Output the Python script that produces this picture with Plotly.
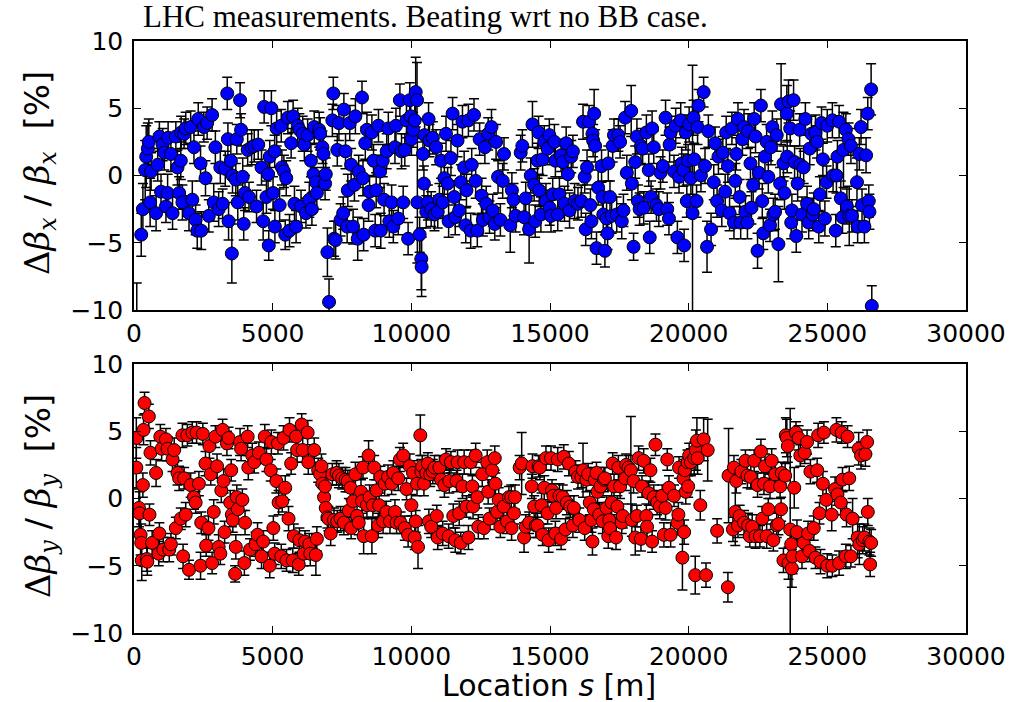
import plotly.graph_objects as go

# ---------------- Top panel (horizontal beta-beating), blue ----------------
s_x_a = [261, 321, 404, 440, 499, 535, 582, 618, 796, 855,
         915, 974, 1034, 1093, 1152, 1212, 1230, 1331, 1390, 1509,
         1568, 1628, 1687, 1700, 1746, 1806, 1865, 1984, 2043, 2103,
         2162, 2222, 2281, 2317, 2400, 2424, 2519, 2578, 2637, 2697,
         2816, 2875, 2934, 3053, 3113, 3196, 3291, 3362, 3386, 3410,
         3493, 3528, 3552, 3671, 3707, 3742, 3825, 3861, 3920, 3956,
         4004, 4099, 4146, 4241, 4336, 4419, 4479, 4598, 4657, 4693,
         4776, 4835, 4859, 4895, 4954, 5013, 5073, 5080, 5144, 5251,
         5310, 5334, 5405, 5453, 5489, 5548, 5607, 5667, 5738, 5786,
         5845, 5904, 5964, 6023, 6083, 6142, 6201, 6261, 6320, 6380,
         6415, 6475, 6498, 6558, 6593, 6677, 6712, 6795, 6831, 6890,
         6914, 6974, 7033, 7152, 7187, 7211, 7271, 7330, 7389, 7449,
         7544, 7568, 7627, 7686, 7710, 7781, 7829, 7900, 7948, 7983,
         8067, 8102, 8221, 8257, 8280, 8340, 8399, 8459, 8494, 8578,
         8637, 8696, 8732, 8815, 8874, 8898, 8969, 9017, 9112, 9171,
         9207, 9290, 9350, 9409, 9445, 9528, 9587, 9647, 9706, 9765,
         9825, 9884, 9944, 9979, 10003, 10062, 10122, 10157, 10205, 10217,
         10300, 10359, 10371, 10419, 10454, 10478, 10538, 10597, 10621, 10656,
         10716, 10775, 10835, 10894, 10953, 11013, 11072, 11132, 11191, 11250,
         11310, 11345, 11429, 11488, 11547, 11583, 11666, 11726, 11785, 11844,
         11904, 11963, 11987, 12058, 12141, 12177, 12260, 12320, 12379, 12462,
         12533, 12581, 12652, 12700, 12771, 12819, 12890, 12937, 13009, 13056,
         13127, 13211, 13294, 13341, 13567, 13626, 13686, 100]
dbx_a = [-4.4, -2.5, 0.4, 1.4, 2.0, 2.5, -2.0, 0.3, -2.8, 0.8,
         2.9, -1.2, 2.3, 1.7, -2.3, -1.3, 2.8, 1.6, -2.8, 2.9,
         0.6, -1.3, 1.1, 3.2, -2.0, 3.1, 3.5, -2.8, 3.6, -1.8,
         2.1, -3.3, -4.1, 4.2, 0.9, -4.1, 3.6, -0.2, 3.9, -3.0,
         4.5, -2.0, 2.1, -2.5, 0.6, -2.1, 0.5, 6.1, 2.7, -3.4,
         1.1, -5.8, 0.0, -0.3, 2.7, -2.0, 5.6, 3.4, -0.1, -3.6,
         -1.3, 1.9, -1.6, 2.1, 2.2, -2.3, 2.3, 0.6, -3.4, 5.1,
         -1.6, 0.1, -5.2, 1.4, 5.0, -1.3, 1.8, -3.8, 3.5, -2.2,
         3.7, 0.6, 0.3, -4.4, -0.2, 4.3, -4.1, 2.4, 4.4, -2.1,
         -3.8, 3.7, 3.4, -2.3, 3.1, 2.3, -2.8, 3.0, -1.8, 1.1,
         -2.5, 0.1, 3.6, -0.5, -1.3, 3.4, 3.1, 2.1, 1.6, -0.6,
         0.1, -5.7, -9.4, 4.1, 6.1, -4.7, -4.8, 1.9, 3.9, -3.3,
         -2.8, 4.9, 1.8, -3.8, -1.1, 3.9, 0.8, -3.8, -0.7, 4.4,
         -4.7, 0.3, 5.8, -0.2, -4.4, 2.4, 3.4, -2.2, -1.2, 3.2,
         1.1, -4.1, -1.1, 3.7, 0.3, -4.1, 1.1, -1.8, 1.8, 3.5,
         -3.4, -2.0, -3.8, 2.1, 3.7, -3.2, 5.6, 1.8, -2.0, 1.9,
         4.1, -4.7, 5.6, 4.4, 2.7, 3.4, 4.1, 6.2, 5.6, -2.0,
         -4.4, -6.2, -6.8, 1.6, -0.6, 3.0, -2.7, -2.0, 4.2, 2.6,
         -2.5, 2.8, -2.9, 2.1, -2.7, -1.8, 1.1, -2.0, -0.2, 3.1,
         -0.6, -3.4, 1.3, 4.6, -1.6, -3.1, 2.6, -2.6, -0.5, 4.0,
         0.6, -3.7, -1.1, 4.1, -4.1, 0.8, 4.5, -0.4, -4.1, 2.7,
         -1.5, -3.3, 2.1, -2.1, 3.1, -3.1, 3.6, -2.6, -3.6, 2.5,
         -0.1, -3.3, -0.4, 1.6, -3.7, -1.1, -1.8, -11.8]
err_x_a = [1.6, 1.9, 2.2, 2.3, 1.9, 1.7, 1.8, 1.4, 1.3, 1.2,
           1.1, 1.3, 1.2, 1.3, 1.2, 1.4, 1.2, 1.3, 1.2, 1.1,
           1.3, 1.2, 1.4, 1.2, 1.3, 1.1, 1.2, 1.3, 1.2, 1.4,
           1.2, 1.1, 1.3, 1.2, 1.3, 1.4, 1.1, 1.3, 1.2, 1.2,
           1.2, 1.4, 1.2, 1.3, 1.2, 1.1, 1.3, 1.2, 1.2, 1.4,
           1.2, 2.2, 1.3, 1.2, 1.1, 1.3, 1.3, 1.2, 1.4, 1.2,
           1.3, 1.2, 1.1, 1.3, 1.2, 1.2, 1.1, 1.3, 1.4, 1.2,
           1.2, 1.3, 1.1, 1.2, 1.3, 1.2, 1.2, 1.2, 1.3, 1.2,
           1.2, 1.3, 1.2, 1.1, 1.3, 1.2, 1.2, 1.1, 1.2, 1.3,
           1.2, 1.3, 1.2, 1.2, 1.3, 1.2, 1.1, 1.2, 1.3, 1.2,
           1.2, 1.3, 1.2, 1.1, 1.2, 1.3, 1.2, 1.2, 1.3, 1.2,
           1.2, 1.8, 1.7, 1.2, 1.2, 1.3, 1.4, 1.2, 1.3, 1.2,
           1.2, 1.2, 1.3, 1.2, 1.2, 1.3, 1.2, 1.3, 1.2, 1.3,
           1.6, 1.2, 1.2, 1.3, 1.2, 1.2, 1.3, 1.2, 1.2, 1.3,
           1.2, 1.2, 1.3, 1.2, 1.2, 1.3, 1.2, 1.2, 1.3, 1.2,
           1.2, 1.3, 1.2, 1.2, 1.3, 1.2, 1.2, 1.3, 1.2, 1.2,
           1.3, 1.2, 1.3, 1.2, 1.2, 1.3, 1.2, 2.6, 2.8, 4.5,
           1.3, 2.3, 2.2, 1.2, 1.3, 1.2, 1.2, 1.3, 1.2, 1.2,
           1.3, 1.2, 1.2, 1.3, 1.2, 1.2, 1.3, 1.2, 1.2, 1.3,
           1.2, 1.2, 1.3, 1.2, 1.2, 1.3, 1.2, 1.2, 1.3, 1.2,
           1.2, 1.3, 1.2, 1.2, 1.3, 1.2, 1.2, 1.3, 1.2, 1.2,
           1.3, 1.2, 1.2, 1.3, 1.2, 1.2, 1.3, 1.2, 1.2, 1.3,
           1.2, 1.2, 1.3, 1.2, 2.0, 1.3, 1.2, 3.8]

s_x_b = [13761, 13943, 14003, 14064, 14125, 14247, 14307, 14368, 14429, 14465,
         14550, 14587, 14611, 14672, 14733, 14793, 14854, 14915, 14976, 14990,
         15036, 15097, 15158, 15194, 15279, 15340, 15401, 15462, 15522, 15583,
         15644, 15705, 15765, 15826, 15887, 16008, 16130, 16191, 16251, 16288,
         16336, 16409, 16458, 16494, 16531, 16555, 16592, 16628, 16677, 16737,
         16859, 16895, 16920, 16980, 17041, 17102, 17077, 17163, 17223, 17260,
         17308, 17405, 17466, 17527, 17587, 17648, 17709, 17770, 17928, 17952,
         18013, 18074, 18134, 18171, 18232, 18280, 18341, 18378, 18475, 18560,
         18596, 18645, 18681, 18742, 18839, 18924, 18985, 19070, 19167, 19228,
         19289, 19313, 19350, 19471, 19532, 19593, 19653, 19714, 19750, 19811,
         19836, 19896, 19933, 19981, 20018, 20079, 20139, 20176, 20200, 20285,
         20321, 20358, 20443, 20540, 20589, 20662, 20710, 20807, 20904, 20953,
         21025, 21074, 21195, 21232, 21317, 21353, 21414, 21475, 21560, 21633,
         21681, 21718, 21778, 21839, 21876, 21937, 21997, 22046, 22119, 22144,
         22229, 22265, 22326, 22362, 22411, 22484, 22532, 22605, 22654, 22690,
         22751, 22812, 22872, 22933, 22969, 23018, 23054, 23115, 23175, 23236,
         23297, 23333, 23418, 23455, 23540, 23552, 23601, 23661, 23698, 23722,
         23783, 23819, 23880, 23929, 24002, 24026, 24086, 24147, 24208, 24269,
         24329, 24366, 24426, 24475, 24511, 24572, 24633, 24693, 24730, 24790,
         24839, 24912, 24997, 24973, 25182, 25207, 25304, 25328, 25365, 25425,
         25486, 25547, 25583, 25668, 25705, 25765, 25790, 25850, 25887, 26069,
         26093, 26154, 26215, 26251, 26336, 26397, 26458, 26494, 26518, 26579,
         26603]
dbx_b = [-3.0, 1.7, 2.2, -3.1, -1.7, -4.0, 0.0, 3.8, -0.7, -3.4,
         1.1, 3.2, -1.1, -2.9, 1.2, 2.5, -1.9, 2.0, 3.0, -2.4,
         -3.0, -1.4, 2.5, 1.1, -2.9, -1.4, 1.5, 1.0, -2.1, 2.4,
         0.1, -2.6, 1.4, 1.8, -1.9, -2.1, -1.9, 4.0, -0.1, -4.0,
         0.6, 4.0, -2.2, -3.4, 3.1, 2.6, 4.6, 2.2, -5.4, -0.9,
         0.7, -1.6, -2.9, -5.6, -3.2, 0.9, -4.3, -1.6, -3.0, 2.2,
         3.0, -2.9, 3.0, 2.5, -3.4, -2.6, 4.3, 0.2, 4.8, -0.6,
         -5.3, 1.0, 2.9, -1.9, -2.5, 2.2, 2.0, -2.4, 3.2, 0.4,
         -4.6, -1.6, 3.5, 2.1, -2.2, -2.5, 0.2, 0.7, 4.3, -2.5,
         -3.2, 2.3, 3.2, 0.3, 3.7, -4.6, -0.1, 4.1, 0.9, 0.4,
         -5.2, 3.2, -1.9, 1.1, 3.8, -0.2, -2.8, 4.3, 1.2, -1.9,
         3.6, 5.2, 0.0, 6.2, 0.7, -5.3, 3.3, -4.0, -0.5, 2.4,
         -1.9, 1.4, -2.6, 1.7, -1.2, 3.2, 0.7, -2.8, 3.5, -3.5,
         -0.4, 1.6, 4.2, -1.6, -3.5, 2.7, 3.6, -2.7, -3.5, 3.3,
         0.9, -2.4, -0.7, 4.2, 2.9, -5.6, 0.2, 5.2, -1.9, -4.3,
         1.4, 2.5, -0.1, -3.7, 2.1, 3.6, -2.9, -2.7, 3.0, -5.1,
         -0.6, 5.3, 0.9, -1.3, 4.6, 1.4, 5.5, 3.5, -3.5, -2.6,
         5.6, 1.0, -4.5, -0.6, 3.4, 0.8, -2.9, 0.6, 4.2, -2.1,
         -3.5, 2.0, 3.1, -2.9, -2.5, 3.2, 2.5, -3.8, -1.4, 3.9,
         1.2, -3.2, 3.7, -0.5, 4.1, 0.0, -4.1, 0.0, 1.4, 4.0,
         -1.7, -3.1, 1.9, 3.4, -2.3, 2.7, -3.0, 2.2, -3.0, -0.5,
         -3.8, 1.6, 3.6, -2.2, -3.8, 1.5, 4.6, -1.9, -2.7, 6.4,
         -9.7]
err_x_b = [1.2, 1.3, 1.2, 1.3, 1.2, 2.5, 1.3, 1.7, 1.2, 1.2,
           1.3, 1.2, 1.2, 1.3, 1.2, 1.2, 1.3, 1.2, 1.2, 1.3,
           1.2, 1.2, 1.3, 1.2, 1.2, 1.3, 1.2, 1.2, 1.3, 1.2,
           1.2, 1.3, 1.2, 1.2, 1.3, 1.2, 1.2, 1.3, 1.2, 1.2,
           1.3, 1.2, 1.2, 1.3, 1.2, 1.2, 1.8, 1.2, 1.2, 1.3,
           1.2, 1.2, 1.3, 1.2, 1.2, 1.3, 1.2, 1.2, 1.3, 1.2,
           1.2, 1.3, 1.2, 1.2, 1.3, 1.2, 1.2, 1.3, 1.9, 1.2,
           1.0, 1.2, 1.3, 1.2, 1.2, 1.3, 1.2, 1.2, 1.3, 1.2,
           1.2, 1.2, 1.3, 1.2, 1.2, 1.3, 1.2, 1.2, 1.3, 1.2,
           1.2, 1.3, 1.2, 1.2, 1.3, 1.2, 1.2, 1.3, 1.2, 1.2,
           1.2, 1.3, 1.2, 1.2, 1.3, 1.2, 11.0, 1.3, 1.2, 1.2,
           1.3, 1.2, 1.2, 1.1, 1.3, 1.9, 1.2, 1.2, 1.3, 1.2,
           1.2, 1.3, 1.2, 1.2, 1.3, 1.2, 1.2, 1.3, 1.2, 1.2,
           1.3, 1.2, 1.2, 1.3, 1.2, 1.2, 1.3, 1.2, 1.2, 1.3,
           1.2, 1.2, 1.3, 1.2, 1.2, 1.3, 1.2, 1.2, 1.3, 1.2,
           1.2, 1.3, 1.2, 1.2, 1.3, 1.2, 1.2, 1.3, 1.2, 2.8,
           1.2, 3.0, 1.3, 1.2, 2.1, 1.2, 1.6, 1.3, 1.2, 1.2,
           1.5, 1.2, 1.2, 1.3, 1.2, 1.2, 1.3, 1.2, 1.2, 1.3,
           1.2, 1.2, 1.3, 1.2, 1.2, 1.3, 1.2, 1.2, 1.3, 1.2,
           1.2, 1.3, 1.2, 1.2, 1.3, 1.2, 1.2, 1.3, 1.2, 1.2,
           1.3, 1.2, 2.8, 1.2, 1.3, 1.2, 2.2, 1.3, 1.2, 1.8,
           1.2, 1.2, 1.3, 1.2, 1.2, 1.3, 1.2, 1.2, 1.3, 1.9,
           1.5]

# ---------------- Bottom panel (vertical beta-beating), red ----------------
s_y_a = [83, 83, 178, 202, 238, 261, 280, 345, 380, 321,
         463, 480, 534, 558, 594, 653, 796, 891, 915, 950,
         998, 1057, 1152, 1212, 1271, 1331, 1390, 1449, 1509, 1568,
         1628, 1687, 1746, 1770, 1806, 1865, 1925, 1984, 2043, 2103,
         2162, 2222, 2257, 2340, 2400, 2424, 2483, 2578, 2602, 2685,
         2720, 2768, 2816, 2875, 2934, 2994, 3053, 3113, 3148, 3196,
         3232, 3267, 3350, 3410, 3469, 3505, 3528, 3564, 3647, 3671,
         3707, 3742, 3825, 3861, 3908, 3980, 4004, 4099, 4122, 4182,
         4265, 4336, 4384, 4455, 4503, 4598, 4657, 4716, 4776, 4895,
         4930, 4954, 5025, 5073, 5132, 5191, 5215, 5310, 5346, 5393,
         5453, 5500, 5572, 5607, 5667, 5726, 5762, 5845, 5881, 5940,
         5964, 6047, 6083, 6118, 6166, 6261, 6285, 6320, 6356, 6498,
         6558, 6593, 6641, 6712, 6760, 6795, 6855, 6890, 6914, 6974,
         7009, 7092, 7152, 7211, 7306, 7330, 7389, 7449, 7508, 7568,
         7627, 7710, 7746, 7805, 7829, 7900, 7983, 8043, 8102, 8185,
         8221, 8257, 8280, 8399, 8459, 8494, 8578, 8613, 8661, 8744,
         8803, 8839, 8886, 8981, 9040, 9100, 9159, 9230, 9290, 9350,
         9409, 9468, 9528, 9587, 9611, 9706, 9765, 9825, 9884, 9944,
         10003, 10062, 10122, 10157, 10205, 10241, 10324, 10359, 10395, 10454,
         10538, 10597, 10633, 10680, 10716, 10775, 10835, 10918, 10953, 11013,
         11072, 11132, 11191, 11250, 11345, 11369, 11429, 11512, 11583, 11630,
         11666, 11726, 11785, 11844, 11904, 11987, 12058, 12141, 12201, 12225,
         12320, 12379, 12415, 12557, 12617, 12736, 12771, 12819, 12914, 13009,
         13032, 13092, 13151, 13211, 13330, 13449, 13518, 13603, 13615, 13700]
dby_a = [4.5, 2.3, -0.7, -1.1, -2.7, -3.3, -4.6, 5.1, 7.1, 1.0,
         -4.5, -4.7, 6.1, -1.2, 3.4, -3.3, 1.9, -4.1, -2.6, 4.6,
         3.7, -3.8, 4.4, 3.7, -3.8, -3.4, 2.9, 3.6, -2.2, 1.9,
         1.5, -1.5, 4.7, -4.3, 1.5, -1.2, 4.7, -5.3, 1.0, 4.9,
         0.1, -0.3, 4.9, 1.1, -5.0, -1.8, 4.8, 2.6, -3.5, -2.2,
         3.9, 1.8, -4.8, -1.0, 4.6, 2.4, -3.6, -4.1, 0.6, 5.1,
         1.3, -2.5, 4.1, 4.5, -0.3, 2.1, -1.2, -1.6, -5.6, -3.6,
         0.1, -0.8, 4.2, 3.7, -0.1, -4.8, -1.8, 4.6, 2.3, -3.8,
         3.2, 2.7, -3.4, -2.7, 3.4, -4.3, -3.2, 4.6, 2.9, -5.0,
         2.1, 4.2, -2.2, -4.1, 1.3, 4.1, -0.3, -4.3, -0.2, 4.5,
         0.8, -4.6, -1.5, 5.1, 2.6, -4.6, -2.8, 4.6, 3.6, -4.9,
         -3.1, 5.5, 3.6, -4.1, -3.2, 4.9, 2.7, -3.4, -4.1, 3.6,
         -4.2, -3.0, 2.1, 1.8, 2.4, 1.1, 0.1, 0.9, -0.7, -1.4,
         -1.5, -2.6, 1.8, -1.6, 1.9, -1.7, 1.7, -1.5, 1.5, -1.8,
         1.4, 1.3, -0.9, 0.8, -2.2, -0.2, 1.8, -1.3, -1.8, 0.5,
         -0.2, 2.3, -2.8, -0.5, 3.2, 0.1, -2.8, -0.5, 2.3, 0.6,
         -2.0, -0.5, 1.6, -1.7, 1.1, -1.0, 1.6, -1.7, 1.1, 1.9,
         -1.0, -1.8, 1.5, 2.9, -1.8, 3.2, -2.2, 0.7, -2.7, 2.4,
         -0.5, 1.9, -2.9, -1.7, 1.1, -3.6, 4.7, 2.0, 2.4, 1.1,
         1.9, 2.6, -1.7, 1.8, -2.1, 2.0, 2.3, -1.3, -2.9, 2.3,
         1.4, -2.6, 1.0, 2.9, -2.8, 1.3, 2.7, -1.3, -3.1, 1.3,
         2.7, -1.1, -3.3, 0.9, 2.7, -0.6, -2.9, 2.7, 0.9, -0.6,
         3.2, 0.1, -2.1, 1.8, -2.2, 2.7, 0.5, -1.5, 2.1, 3.0,
         1.1, -1.0, -0.1, -2.1, -0.6, -1.7, 0.1, 0.1, -2.2, -1.1]
err_y_a = [1.5, 1.5, 1.4, 1.6, 1.5, 1.4, 1.5, 1.1, 0.8, 0.9,
           0.9, 1.0, 0.9, 0.8, 0.9, 0.9, 1.0, 0.9, 0.8, 0.9,
           0.9, 0.9, 0.8, 0.9, 0.9, 0.8, 0.9, 0.9, 0.8, 0.9,
           0.9, 0.8, 0.9, 0.9, 0.8, 0.9, 0.8, 0.7, 0.9, 0.8,
           0.9, 0.8, 0.8, 0.9, 1.0, 0.8, 0.8, 0.9, 0.8, 0.9,
           0.9, 0.8, 0.8, 0.9, 0.8, 0.9, 0.9, 0.8, 0.9, 0.8,
           0.9, 0.8, 0.9, 0.8, 0.9, 0.8, 0.9, 0.9, 0.6, 0.9,
           0.9, 0.8, 1.0, 0.9, 0.8, 0.9, 0.9, 0.8, 0.9, 0.8,
           0.9, 0.8, 0.9, 0.9, 0.8, 0.9, 0.8, 0.9, 0.9, 0.9,
           0.8, 0.9, 0.9, 0.8, 0.9, 0.8, 0.9, 0.9, 0.8, 0.9,
           0.9, 0.8, 0.9, 0.9, 0.8, 0.9, 0.9, 0.8, 0.9, 0.8,
           0.9, 0.8, 0.9, 0.9, 0.8, 0.9, 0.9, 0.8, 0.9, 0.9,
           1.5, 0.9, 0.9, 0.8, 0.9, 0.9, 0.8, 0.9, 0.9, 0.8,
           0.9, 0.9, 0.8, 0.9, 0.9, 0.8, 0.9, 0.9, 0.8, 0.9,
           0.9, 0.8, 0.9, 0.9, 0.8, 0.9, 0.9, 0.8, 0.9, 0.9,
           0.9, 0.8, 1.3, 0.9, 1.1, 0.9, 1.3, 0.9, 0.9, 0.8,
           0.9, 0.9, 0.8, 0.9, 0.9, 0.8, 0.9, 0.9, 0.8, 0.9,
           0.9, 0.8, 0.9, 0.9, 0.8, 0.9, 0.9, 0.8, 0.9, 0.9,
           0.8, 0.9, 0.9, 0.8, 0.9, 1.6, 1.5, 0.9, 0.8, 0.9,
           0.9, 0.8, 0.9, 0.9, 0.8, 0.9, 0.9, 0.8, 0.9, 0.9,
           0.8, 0.9, 0.9, 0.8, 0.9, 0.9, 0.8, 0.9, 0.9, 0.8,
           0.9, 0.9, 0.8, 0.9, 0.9, 0.8, 0.9, 0.9, 0.8, 0.9,
           0.9, 0.8, 0.9, 0.9, 0.8, 0.9, 0.9, 0.8, 0.9, 0.9,
           0.8, 0.9, 0.9, 0.8, 0.9, 0.9, 0.8, 0.9, 0.9, 0.8]

s_y_b = [13736, 13906, 13979, 14064, 14125, 14247, 14344, 14368, 14429, 14490,
         14550, 14587, 14635, 14696, 14733, 14793, 14854, 14915, 14951, 15036,
         15073, 15121, 15194, 15219, 15279, 15340, 15401, 15462, 15498, 15559,
         15608, 15680, 15729, 15826, 15862, 15923, 16008, 16057, 16130, 16191,
         16251, 16312, 16373, 16434, 16494, 16531, 16580, 16616, 16677, 16713,
         16774, 16823, 16899, 16944, 16980, 17041, 17102, 17138, 17163, 17223,
         17260, 17308, 17381, 17430, 17466, 17527, 17587, 17624, 17709, 17745,
         17830, 17916, 17952, 18013, 18074, 18134, 18195, 18280, 18317, 18378,
         18475, 18499, 18560, 18621, 18681, 18742, 18803, 18863, 18960, 19046,
         19107, 19167, 19228, 19289, 19350, 19471, 19593, 19629, 19653, 19775,
         19811, 19836, 19860, 19896, 19957, 19981, 20018, 20079, 20200, 20237,
         20261, 20297, 20321, 20419, 20540, 20625, 20686, 21026, 21415, 21439,
         21597, 21633, 21681, 21718, 21778, 21839, 21900, 21997, 22046, 22119,
         22144, 22205, 22241, 22290, 22362, 22411, 22484, 22569, 22605, 22654,
         22715, 22751, 22812, 22872, 22933, 22994, 23054, 23115, 23175, 23236,
         23297, 23333, 23357, 23418, 23479, 23503, 23540, 23576, 23601, 23661,
         23698, 23722, 23746, 23807, 23868, 23904, 23965, 24026, 24086, 24147,
         24184, 24269, 24305, 24354, 24390, 24511, 24572, 24633, 24669, 24718,
         24754, 24839, 24876, 24961, 24997, 25158, 25182, 25280, 25328, 25365,
         25425, 25486, 25522, 25547, 25692, 25729, 25668, 25790, 25850, 25911,
         26093, 26130, 26154, 26215, 26275, 26336, 26373, 26434, 26458, 26518,
         26543, 26579]
dby_b = [0.1, 2.3, 2.6, -2.9, -2.1, -1.8, 0.9, 2.4, -0.6, -2.0,
         -2.0, 2.4, 2.3, -0.5, -2.7, 0.8, 3.0, -1.1, -3.1, 3.0,
         0.6, 0.2, -2.6, -0.7, 2.9, 0.2, -3.0, 0.1, 3.1, -2.3,
         -0.3, 2.6, -0.6, -2.0, -0.7, 2.0, 1.6, -1.6, 1.6, 2.1,
         -2.2, 1.4, 1.8, -0.3, -1.6, -3.2, -0.8, 1.4, 1.9, 0.5,
         -1.2, 0.9, -1.7, 1.4, 1.5, -0.7, -2.8, -1.6, -2.2, -0.3,
         2.6, 0.9, -2.9, -0.6, 2.3, 0.9, -1.8, -1.3, 1.5, 2.5,
         2.3, 2.1, -1.6, 1.3, -2.9, -1.3, 3.0, -3.0, 0.9, 2.8,
         -1.3, -2.1, 0.4, 2.1, -3.2, 0.1, 4.0, -0.3, -0.6, 0.2,
         -2.7, -0.7, 2.9, 0.8, -2.7, 0.2, -1.8, -1.2, 2.3, -4.4,
         1.5, -2.5, 2.1, 0.5, 2.7, 0.9, 3.2, 2.7, 3.0, -5.7,
         3.6, 4.3, 3.0, -0.5, 4.4, -5.7, 3.6, -2.4, -6.6, 1.7,
         -2.3, 2.3, -1.0, 1.3, -2.0, -1.3, 2.0, -1.8, 2.8, 1.7,
         -2.0, -2.8, 1.6, -2.1, 2.8, -2.8, 1.0, -2.8, 3.5, -1.5,
         1.1, 2.4, -2.8, -0.8, 0.9, 2.8, -3.1, 1.8, -2.0, -1.9,
         0.9, -0.8, 1.9, -4.6, 1.7, 4.7, 4.5, 3.9, -4.8, -2.3,
         -3.4, -5.2, -4.3, 0.8, 4.9, -2.5, 4.5, 3.2, -4.3, -3.3,
         3.4, 4.2, -2.6, -3.9, 2.0, -2.2, -4.4, 2.1, 4.7, -1.1,
         -4.7, 1.1, 4.9, -0.1, -5.0, -1.2, -5.0, 0.7, 5.1, 0.3,
         -4.8, -0.3, 4.9, 1.4, -1.2, 4.6, -4.3, 1.5, -4.3, -1.5,
         -2.9, 3.7, -3.4, 3.2, -3.1, -2.9, 3.3, 4.2, -1.0, -3.2,
         -4.9, -3.3]
err_y_b = [0.9, 0.9, 2.3, 1.1, 0.9, 0.8, 0.9, 0.9, 0.8, 0.9,
           0.9, 0.8, 0.9, 0.9, 0.8, 0.9, 0.9, 0.8, 0.9, 0.9,
           0.8, 0.9, 0.9, 0.8, 0.9, 0.9, 0.8, 0.9, 0.9, 0.8,
           0.9, 0.9, 0.8, 0.9, 0.9, 0.8, 0.9, 0.9, 0.8, 2.0,
           0.9, 0.9, 0.8, 0.9, 0.9, 1.0, 0.9, 0.9, 0.8, 0.9,
           0.9, 0.8, 0.9, 0.9, 0.8, 0.9, 0.9, 0.8, 0.9, 0.9,
           0.8, 0.9, 0.9, 0.8, 0.9, 0.9, 0.8, 0.9, 0.9, 0.8,
           0.9, 4.0, 1.2, 0.9, 1.3, 0.8, 0.9, 0.9, 0.8, 0.9,
           0.9, 0.8, 0.9, 0.9, 0.8, 0.9, 0.8, 0.9, 0.9, 0.8,
           0.9, 0.9, 0.8, 0.9, 0.9, 0.8, 0.9, 0.9, 0.8, 2.4,
           0.9, 0.9, 0.8, 0.9, 0.9, 0.8, 0.9, 1.0, 1.2, 1.4,
           1.5, 1.7, 1.2, 1.1, 1.6, 0.9, 2.3, 0.9, 1.1, 3.5,
           0.9, 0.9, 2.5, 0.9, 0.9, 0.8, 0.9, 0.9, 0.8, 0.9,
           0.9, 0.8, 0.9, 0.9, 0.8, 0.9, 0.9, 0.8, 0.9, 0.9,
           0.8, 0.9, 0.9, 0.8, 0.9, 0.9, 0.8, 0.9, 0.9, 0.8,
           0.9, 0.9, 0.8, 0.9, 0.9, 1.3, 1.4, 1.2, 1.2, 9.0,
           1.0, 1.4, 1.3, 1.5, 0.8, 0.9, 0.9, 0.8, 0.9, 0.9,
           0.8, 0.9, 0.9, 0.8, 0.9, 0.9, 0.8, 0.9, 0.9, 0.8,
           0.9, 0.9, 0.8, 0.9, 0.9, 1.2, 0.8, 0.9, 0.9, 0.8,
           0.9, 0.9, 0.8, 0.9, 0.9, 0.8, 0.9, 0.9, 0.8, 1.5,
           1.5, 1.2, 1.5, 1.0, 1.0, 1.0, 0.9, 0.9, 1.0, 1.0,
           0.9, 1.0]

x_ticks = [0, 5000, 10000, 15000, 20000, 25000, 30000]
y_ticks = [-10, -5, 0, 5, 10]

title_text = "LHC measurements. Beating wrt no BB case."
xlabel = "Location <i>s</i> [m]"
MATH = "font-family:'DejaVu Serif'"
ylabel_top = ("<span style=\"" + MATH + "\">Δ<i>β</i><sub><i>x</i></sub> / <i>β</i><sub><i>x</i></sub></span>"
              "  [%]")
ylabel_bot = ("<span style=\"" + MATH + "\">Δ<i>β</i><sub><i>y</i></sub> / <i>β</i><sub><i>y</i></sub></span>"
              "  [%]")

s_x = s_x_a + s_x_b
dbx = dbx_a + dbx_b
err_x = err_x_a + err_x_b
s_y = s_y_a + s_y_b
dby = dby_a + dby_b
err_y = err_y_a + err_y_b
assert len(s_x) == len(dbx) == len(err_x)
assert len(s_y) == len(dby) == len(err_y)

W, H = 1034, 702
PX_L, PX_R = 134, 966
TOP = (41, 310)
BOT = (364, 633)


def ydom(p):
    return [1 - p[1] / H, 1 - p[0] / H]


eb = dict(type="data", visible=True, color="black", thickness=1.5, width=5)

fig = go.Figure()
fig.add_trace(go.Scatter(
    x=s_x, y=dbx, mode="markers", xaxis="x", yaxis="y", showlegend=False,
    error_y=dict(eb, array=err_x),
    marker=dict(color="#0000ff", size=13, line=dict(color="black", width=1))))
fig.add_trace(go.Scatter(
    x=s_y, y=dby, mode="markers", xaxis="x2", yaxis="y2", showlegend=False,
    error_y=dict(eb, array=err_y),
    marker=dict(color="#ff0000", size=13, line=dict(color="black", width=1))))

tickfont = dict(family="DejaVu Sans", size=25, color="black")
xcommon = dict(range=[0, 30000], tickvals=x_ticks, ticktext=[str(t) for t in x_ticks],
               ticks="inside", ticklen=7, tickwidth=1, tickcolor="black",
               showline=True, linecolor="black", linewidth=1.5, mirror="ticks",
               showgrid=False, zeroline=False, tickfont=tickfont, automargin=False,
               domain=[PX_L / W, PX_R / W])
ycommon = dict(range=[-10, 10], tickvals=y_ticks,
               ticks="inside", ticklen=7, tickwidth=1, tickcolor="black",
               showline=True, linecolor="black", linewidth=1.5, mirror="ticks",
               showgrid=False, zeroline=False, tickfont=tickfont, automargin=False,
               ticklabelstandoff=4)

fig.update_layout(
    width=W, height=H, autosize=False,
    margin=dict(l=0, r=0, t=0, b=0, pad=0, autoexpand=False),
    paper_bgcolor="white", plot_bgcolor="white",
    xaxis=dict(xcommon, anchor="y"),
    yaxis=dict(ycommon, anchor="x", domain=ydom(TOP)),
    xaxis2=dict(xcommon, anchor="y2"),
    yaxis2=dict(ycommon, anchor="x2", domain=ydom(BOT)),
    annotations=[
        dict(text=title_text, x=141 / W, y=1 - 17 / H, xref="paper", yref="paper",
             xanchor="left", yanchor="middle", showarrow=False,
             font=dict(family="Liberation Serif", size=31, color="black")),
        dict(text=ylabel_top, x=40 / W, y=1 - 173 / H, xref="paper", yref="paper",
             xanchor="center", yanchor="middle", textangle=-90, showarrow=False,
             font=dict(family="DejaVu Sans", size=34, color="black")),
        dict(text=ylabel_bot, x=40 / W, y=1 - 496 / H, xref="paper", yref="paper",
             xanchor="center", yanchor="middle", textangle=-90, showarrow=False,
             font=dict(family="DejaVu Sans", size=34, color="black")),
        dict(text=xlabel, x=549 / W, y=1 - 685 / H, xref="paper", yref="paper",
             xanchor="center", yanchor="middle", showarrow=False,
             font=dict(family="DejaVu Sans", size=30, color="black")),
    ],
)

fig.write_html("out.html")
